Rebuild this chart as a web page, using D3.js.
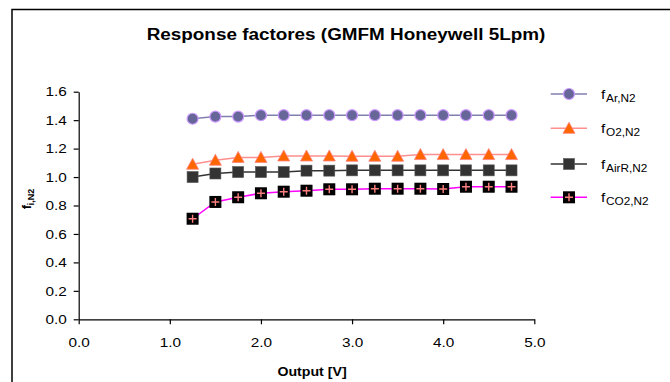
<!DOCTYPE html>
<html><head><meta charset="utf-8">
<script src="https://cdn.jsdelivr.net/npm/d3@7/dist/d3.min.js"></script>
<style>body{margin:0;background:#fff}svg{display:block;font-family:"Liberation Sans",Arial,sans-serif}</style>
</head><body><svg id="c" width="670" height="382"></svg>
<script>
const outputV = [1.25,1.5,1.75,2.0,2.25,2.5,2.75,3.0,3.25,3.5,3.75,4.0,4.25,4.5,4.75];
const fAr   = [1.41,1.425,1.425,1.435,1.435,1.435,1.435,1.435,1.435,1.435,1.435,1.435,1.435,1.435,1.435];
const fO2   = [1.09,1.118,1.138,1.138,1.148,1.148,1.148,1.146,1.146,1.146,1.158,1.158,1.158,1.158,1.158];
const fAirR = [1.0,1.025,1.035,1.035,1.035,1.045,1.045,1.047,1.047,1.047,1.047,1.047,1.047,1.047,1.047];
const fCO2  = [0.707,0.825,0.858,0.886,0.897,0.904,0.914,0.914,0.918,0.918,0.918,0.916,0.932,0.932,0.932];
const xTicks = [0,1,2,3,4,5];
const yTicks = [0,0.2,0.4,0.6,0.8,1.0,1.2,1.4,1.6];
const seriesSubs = ["Ar,N2","O2,N2","AirR,N2","CO2,N2"];

const K = 1.18; // horizontal text stretch seen in the reference
function stretch(sel){
  sel.each(function(){
    const w = this.getComputedTextLength();
    this.setAttribute("textLength", w*K);
    this.setAttribute("lengthAdjust","spacingAndGlyphs");
  });
}

const svg = d3.select("#c");
svg.append("rect").attr("x",12).attr("y",9.5).attr("width",700).attr("height",400)
  .attr("fill","#fff").attr("stroke","#000").attr("stroke-width",1.5);

const x = d3.scaleLinear().domain([0,5]).range([78.7,534.3]);
const y = d3.scaleLinear().domain([0,1.6]).range([319.3,91.7]);

const xAxis = svg.append("g").attr("transform","translate(0,319.3)")
  .call(d3.axisBottom(x).tickValues(xTicks).tickFormat(d3.format(".1f")).tickSize(5).tickSizeOuter(0));
const yAxis = svg.append("g").attr("transform","translate(78.7,0)")
  .call(d3.axisLeft(y).tickValues(yTicks).tickFormat(d3.format(".1f")).tickSize(5).tickSizeOuter(0));
[xAxis,yAxis].forEach(a=>{
  a.selectAll("path,line").attr("stroke","#000").attr("stroke-width",1.2);
  a.selectAll("text").attr("font-size",13).attr("fill","#000").attr("font-family","Liberation Sans, Arial, sans-serif");
});
xAxis.selectAll("text").attr("dy","1.5em");
yAxis.selectAll("text").attr("dx","-0.3em");
stretch(xAxis.selectAll("text"));
stretch(yAxis.selectAll("text"));

stretch(svg.append("text").attr("x",346).attr("y",40).attr("text-anchor","middle")
  .attr("font-size",16).attr("font-weight","bold").text("Response factores (GMFM Honeywell 5Lpm)"));
stretch(svg.append("text").attr("x",312).attr("y",376).attr("text-anchor","middle")
  .attr("font-size",12).attr("font-weight","bold").text("Output [V]"));
const yl = svg.append("text").attr("transform","translate(31,199) rotate(-90)").attr("text-anchor","middle")
  .attr("font-size",12.5).attr("font-weight","bold");
yl.append("tspan").text("f");
yl.append("tspan").attr("font-size",9).attr("dy",3).text("i,N2");

const series = [
  {vals:fAr, line:"#7f7fb0", type:"circle", fill:"#666699", stroke:"#cc99ff"},
  {vals:fO2, line:"#ff8f8f", type:"triangle", fill:"#ff6600", stroke:"#ff8080"},
  {vals:fAirR, line:"#333333", type:"square", fill:"#333333", stroke:"#555"},
  {vals:fCO2, line:"#ff00ff", type:"plus", fill:"#000000", stroke:"#ff8080"}
];

function marker(g, type, s){
  if(type==="circle") g.append("circle").attr("r",5.5).attr("fill",s.fill).attr("stroke",s.stroke).attr("stroke-width",1.2);
  else if(type==="triangle") g.append("path").attr("d","M0,-6L6,5L-6,5Z").attr("fill",s.fill).attr("stroke",s.stroke).attr("stroke-width",0.8);
  else if(type==="square") g.append("rect").attr("x",-5.5).attr("y",-5.5).attr("width",11).attr("height",11).attr("fill",s.fill).attr("stroke",s.stroke).attr("stroke-width",0.6);
  else {
    g.append("rect").attr("x",-6).attr("y",-6).attr("width",12).attr("height",12).attr("fill",s.fill);
    g.append("path").attr("d","M-4,0H4M0,-4V4").attr("stroke",s.stroke).attr("stroke-width",1.4);
  }
}

const line = d3.line().x((d,i)=>x(outputV[i])).y(d=>y(d));
series.forEach(s=>{
  svg.append("path").attr("d",line(s.vals)).attr("fill","none").attr("stroke",s.line).attr("stroke-width",1.5);
  s.vals.forEach((v,i)=>{
    const g = svg.append("g").attr("transform",`translate(${x(outputV[i])},${y(v)})`);
    marker(g,s.type,s);
  });
});

// legend
const legY = [94,128.3,164,197.3];
series.forEach((s,i)=>{
  svg.append("line").attr("x1",550.7).attr("x2",587).attr("y1",legY[i]).attr("y2",legY[i]).attr("stroke",s.line).attr("stroke-width",1.5);
  const g = svg.append("g").attr("transform",`translate(569,${legY[i]})`);
  marker(g,s.type,s);
  const f = svg.append("text").attr("x",601).attr("y",legY[i]+5).attr("font-size",13).text("f");
  stretch(f);
  const fw = f.node().getComputedTextLength()*K;
  stretch(svg.append("text").attr("x",601+fw).attr("y",legY[i]+8).attr("font-size",10).text(seriesSubs[i]));
});
</script></body></html>
